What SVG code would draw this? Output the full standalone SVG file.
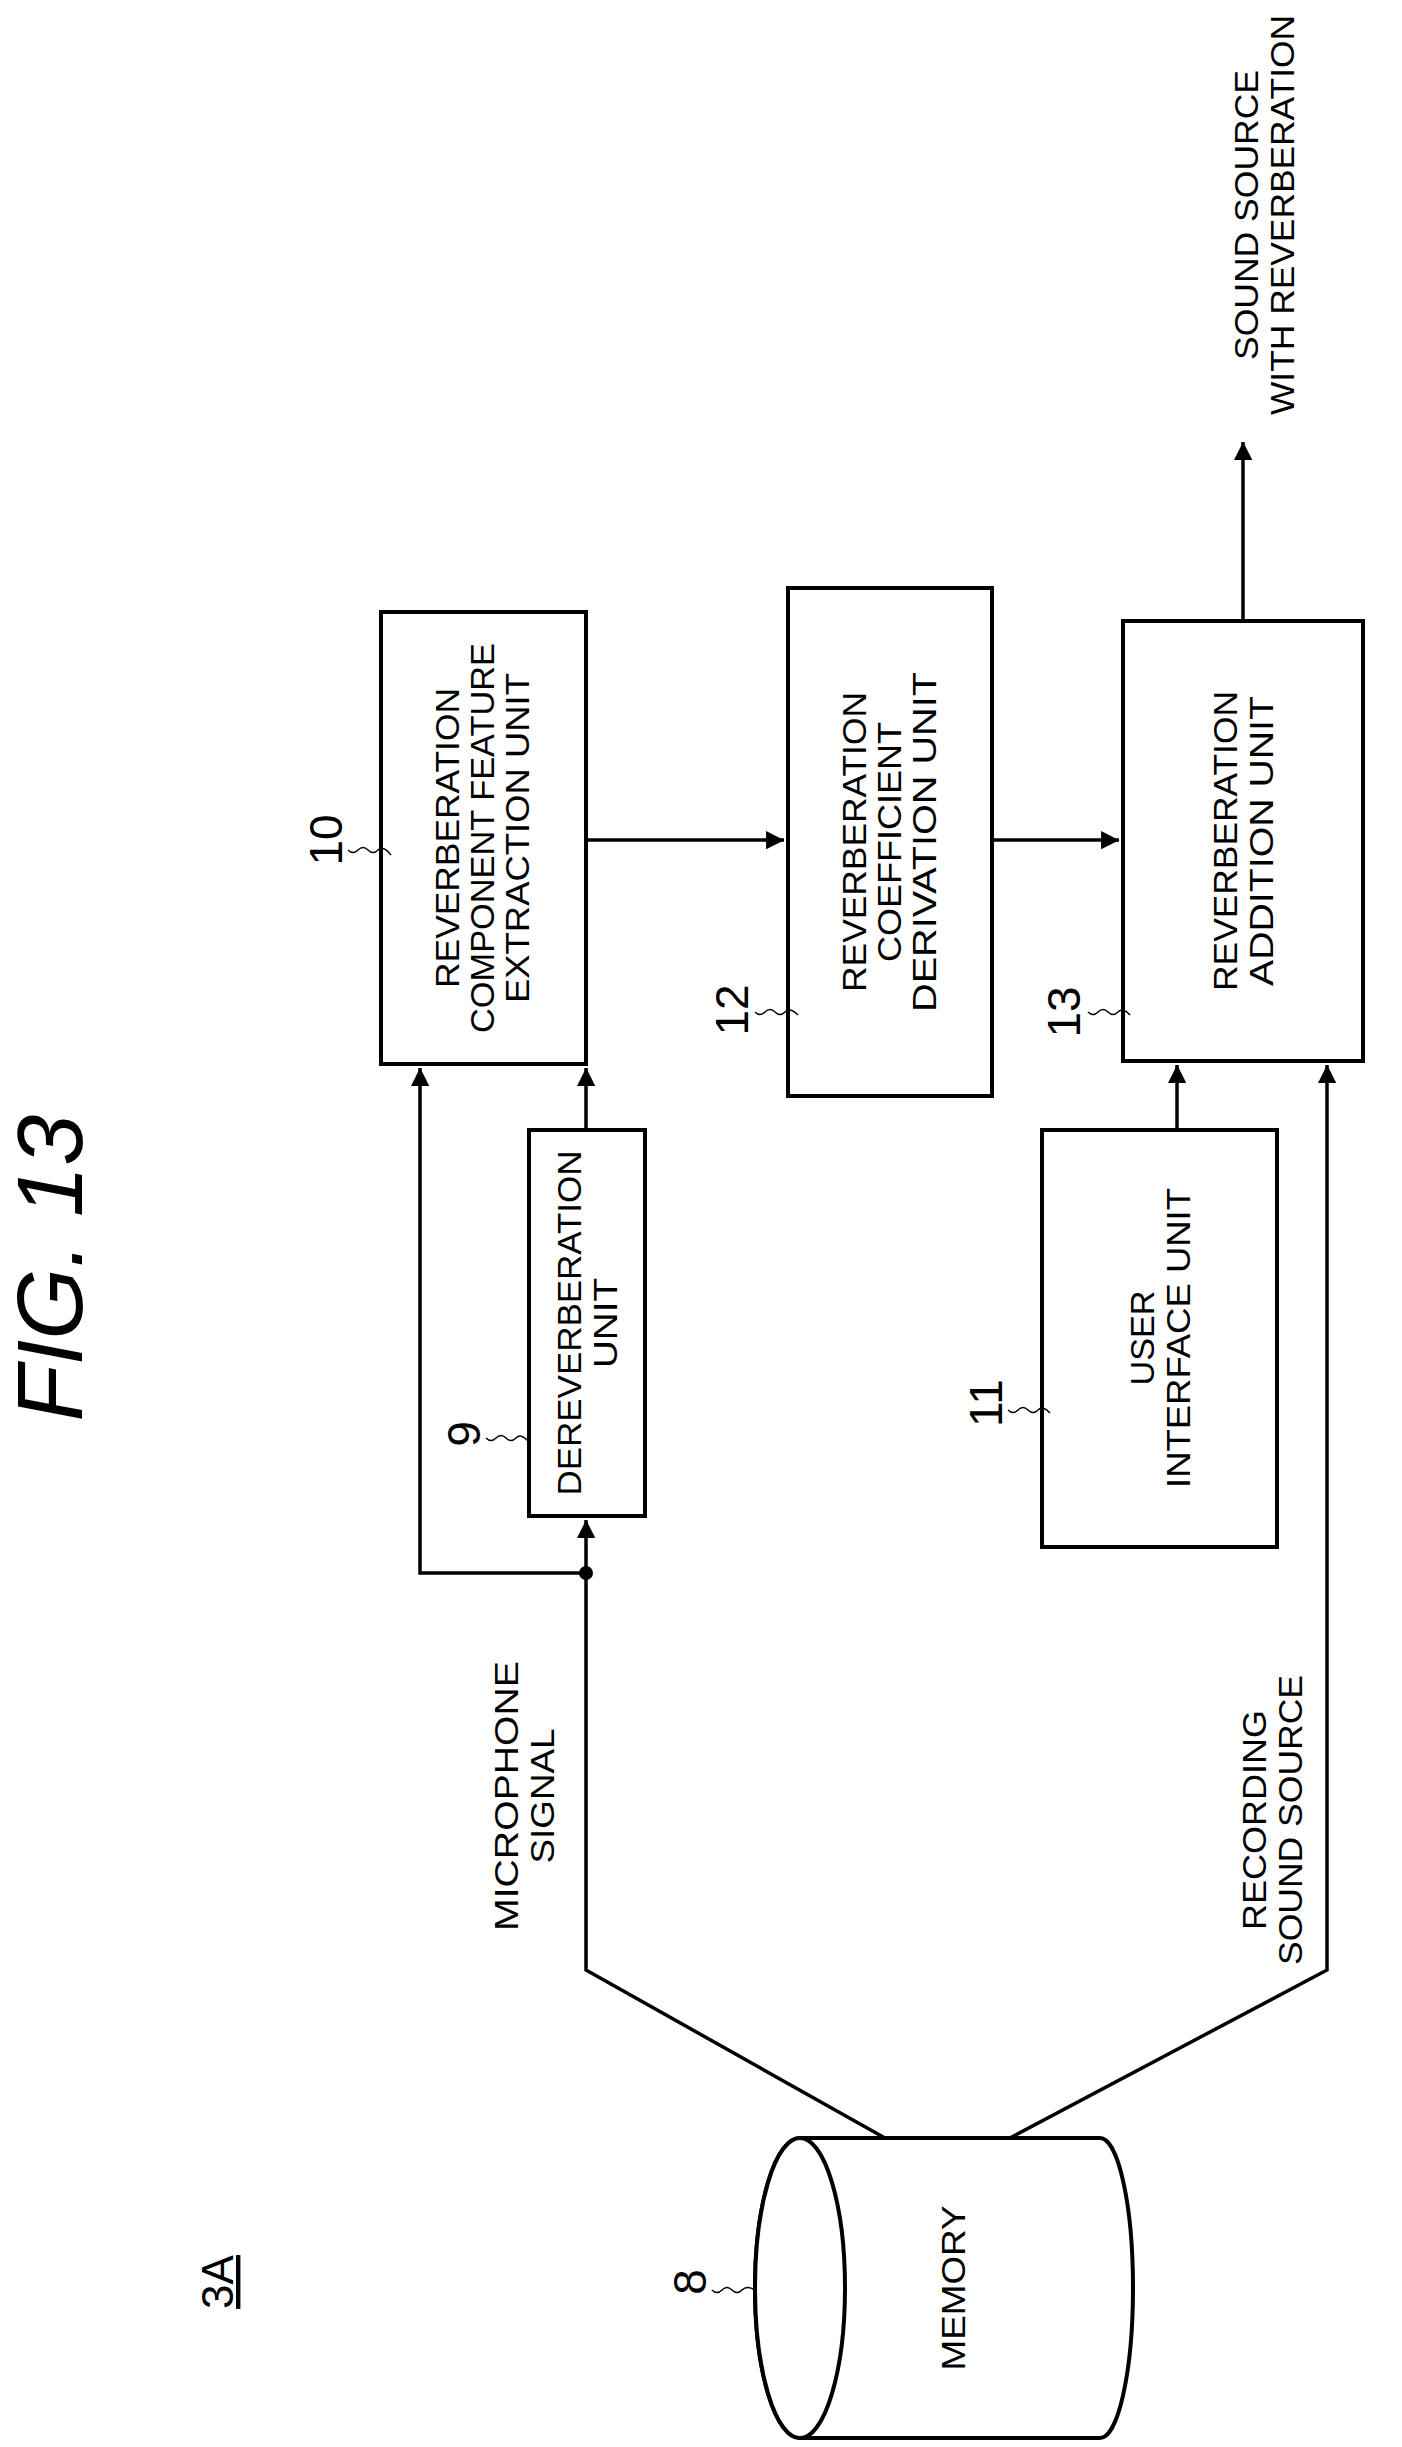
<svg xmlns="http://www.w3.org/2000/svg" width="1402" height="2447" viewBox="0 0 1402 2447">
<style>
.b{fill:#fff;stroke:#000;stroke-width:4}
.l{fill:none;stroke:#000;stroke-width:3.5}
.t{font-family:"Liberation Sans",Arial,sans-serif;font-size:34px;text-anchor:middle;fill:#000}
.n{font-family:"Liberation Sans",Arial,sans-serif;font-size:46px;text-anchor:middle;fill:#000}
.s{fill:none;stroke:#000;stroke-width:1.5}
</style>
<defs>
<marker id="a" viewBox="0 0 10 10" refX="10" refY="5" markerWidth="7" markerHeight="7" markerUnits="userSpaceOnUse" orient="auto" style="overflow:visible">
<path d="M0,0 L10,5 L0,10 z" transform="scale(2.6) translate(-6,-3)"/>
</marker>
</defs>
<rect width="1402" height="2447" fill="#fff"/>
<text class="t" transform="translate(82,1268) rotate(-90)" style="font-size:92px;font-style:italic">FIG. 13</text>
<text class="t" transform="translate(233,2282) rotate(-90)" style="font-size:44px;text-decoration:underline">3A</text>
<g id="connectors">
<path class="l" d="M885,2138 L586,1970 L586,1520" marker-end="url(#a)"/>
<path class="l" d="M586,1573 L420,1573 L420,1068" marker-end="url(#a)"/>
<path class="l" d="M586,1130 L586,1068" marker-end="url(#a)"/>
<circle cx="586" cy="1573" r="7"/>
<path class="l" d="M1010,2138 L1327,1970 L1327,1065" marker-end="url(#a)"/>
<path class="l" d="M1177,1130 L1177,1065" marker-end="url(#a)"/>
<path class="l" d="M586,840 L784,840" marker-end="url(#a)"/>
<path class="l" d="M992,840 L1119,840" marker-end="url(#a)"/>
<path class="l" d="M1243,621 L1243,442" marker-end="url(#a)"/>
<text class="t" transform="translate(524,1796) rotate(-90)"><tspan x="0" y="-6" textLength="270" lengthAdjust="spacingAndGlyphs">MICROPHONE</tspan><tspan x="0" y="30" textLength="135" lengthAdjust="spacingAndGlyphs">SIGNAL</tspan></text>
<text class="t" transform="translate(1272,1820) rotate(-90)"><tspan x="0" y="-6" textLength="220" lengthAdjust="spacingAndGlyphs">RECORDING</tspan><tspan x="0" y="30" textLength="290" lengthAdjust="spacingAndGlyphs">SOUND SOURCE</tspan></text>
<text class="t" transform="translate(1264,215) rotate(-90)"><tspan x="0" y="-6" textLength="290" lengthAdjust="spacingAndGlyphs">SOUND SOURCE</tspan><tspan x="0" y="30" textLength="400" lengthAdjust="spacingAndGlyphs">WITH REVERBERATION</tspan></text>
</g>
<g id="n10">
<rect class="b" x="381" y="612" width="205" height="452"/>
<text class="t" transform="translate(483,838) rotate(-90)"><tspan x="0" y="-24" textLength="300" lengthAdjust="spacingAndGlyphs">REVERBERATION</tspan><tspan x="0" y="11" textLength="390" lengthAdjust="spacingAndGlyphs">COMPONENT FEATURE</tspan><tspan x="0" y="46" textLength="330" lengthAdjust="spacingAndGlyphs">EXTRACTION UNIT</tspan></text>
<text class="n" transform="translate(342,840) rotate(-90)">10</text>
<path class="s" d="M348,850 q5,5 10,0 t10,0 t10,0 t13,5"/>
</g>
<g id="n12">
<rect class="b" x="788" y="588" width="204" height="508"/>
<text class="t" transform="translate(890,842) rotate(-90)"><tspan x="0" y="-24" textLength="300" lengthAdjust="spacingAndGlyphs">REVERBERATION</tspan><tspan x="0" y="11" textLength="240" lengthAdjust="spacingAndGlyphs">COEFFICIENT</tspan><tspan x="0" y="46" textLength="340" lengthAdjust="spacingAndGlyphs">DERIVATION UNIT</tspan></text>
<text class="n" transform="translate(748,1010) rotate(-90)">12</text>
<path class="s" d="M755,1012 q5,5 10,0 t10,0 t10,0 t13,3"/>
</g>
<g id="n13">
<rect class="b" x="1123" y="621" width="240" height="440"/>
<text class="t" transform="translate(1243,841) rotate(-90)"><tspan x="0" y="-6" textLength="300" lengthAdjust="spacingAndGlyphs">REVERBERATION</tspan><tspan x="0" y="30" textLength="290" lengthAdjust="spacingAndGlyphs">ADDITION UNIT</tspan></text>
<text class="n" transform="translate(1080,1012) rotate(-90)">13</text>
<path class="s" d="M1088,1012 q5,5 10,0 t10,0 t10,0 t12,3"/>
</g>
<g id="n9">
<rect class="b" x="529" y="1130" width="116" height="386"/>
<text class="t" transform="translate(587,1323) rotate(-90)"><tspan x="0" y="-6" textLength="345" lengthAdjust="spacingAndGlyphs">DEREVERBERATION</tspan><tspan x="0" y="30" textLength="90" lengthAdjust="spacingAndGlyphs">UNIT</tspan></text>
<text class="n" transform="translate(480,1434) rotate(-90)">9</text>
<path class="s" d="M486,1438 q5,5 10,0 t10,0 t10,0 t12,3"/>
</g>
<g id="n11">
<rect class="b" x="1042" y="1130" width="235" height="417"/>
<text class="t" transform="translate(1160,1338) rotate(-90)"><tspan x="0" y="-6" textLength="95" lengthAdjust="spacingAndGlyphs">USER</tspan><tspan x="0" y="30" textLength="300" lengthAdjust="spacingAndGlyphs">INTERFACE UNIT</tspan></text>
<text class="n" transform="translate(1002,1403) rotate(-90)">11</text>
<path class="s" d="M1008,1410 q5,5 10,0 t10,0 t10,0 t12,3"/>
</g>
<g id="n8">
<path class="b" d="M800,2138 L1100,2138 A33,150 0 0 1 1100,2438 L800,2438 A45,150 0 0 1 800,2138 Z"/>
<ellipse class="b" cx="800" cy="2288" rx="45" ry="150"/>
<text class="t" transform="translate(965,2288) rotate(-90)"><tspan x="0" y="0" textLength="165" lengthAdjust="spacingAndGlyphs">MEMORY</tspan></text>
<text class="n" transform="translate(706,2282) rotate(-90)">8</text>
<path class="s" d="M712,2290 q5,5 10,0 t10,0 t10,0 t13,0"/>
</g>
</svg>
